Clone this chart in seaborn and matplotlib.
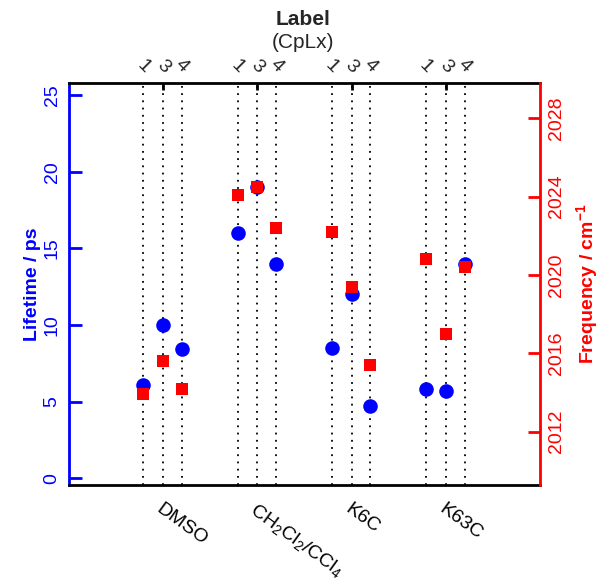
import matplotlib
matplotlib.use("Agg")
import matplotlib.pyplot as plt
import matplotlib.transforms as mtransforms
import pandas as pd
import seaborn as sns

solvents = ["DMSO", "CH$_2$Cl$_2$/CCl$_4$", "K6C", "K63C"]
labels = ["1", "3", "4"]

lifetime_dmso = [6.1, 10.0, 8.4]
lifetime_ch2cl2 = [16.0, 19.0, 14.0]
lifetime_k6c = [8.5, 12.0, 4.7]
lifetime_k63c = [5.8, 5.7, 14.0]

freq_dmso = [2013.9, 2015.6, 2014.2]
freq_ch2cl2 = [2024.1, 2024.5, 2022.4]
freq_k6c = [2022.2, 2019.4, 2015.4]
freq_k63c = [2020.8, 2017.0, 2020.4]

lifetime_ticks = [0, 5, 10, 15, 20, 25]
freq_ticks = [2012, 2016, 2020, 2024, 2028]

BLUE = "#0000ff"
RED = "#ff0000"
label_offset = {"1": -0.21, "3": 0.0, "4": 0.2}

rows = []
for i, (solv, lt, fr) in enumerate(zip(
        solvents,
        [lifetime_dmso, lifetime_ch2cl2, lifetime_k6c, lifetime_k63c],
        [freq_dmso, freq_ch2cl2, freq_k6c, freq_k63c])):
    for lab, l, f in zip(labels, lt, fr):
        rows.append({"solvent": solv, "label": lab, "x": i + 1 + label_offset[lab],
                     "lifetime": l, "frequency": f})
df = pd.DataFrame(rows)

sns.set_style("white")
plt.rcParams["font.family"] = ["Liberation Sans", "DejaVu Sans"]
plt.rcParams["mathtext.fontset"] = "custom"
plt.rcParams["mathtext.rm"] = "Liberation Sans"
plt.rcParams["mathtext.bf"] = "Liberation Sans:bold"
plt.rcParams["mathtext.default"] = "regular"

fig = plt.figure(figsize=(6.04, 5.88), dpi=100)
ax = fig.add_axes([0.114, 0.1752, 0.78, 0.6836])
ax2 = ax.twinx()

for x in df["x"]:
    ax.axvline(x, color="black", linestyle=(0, (1, 3)), linewidth=1.3, zorder=1)

sns.scatterplot(data=df, x="x", y="lifetime", ax=ax, color=BLUE, marker="o",
                s=110, linewidth=0, zorder=3, legend=False)
sns.scatterplot(data=df, x="x", y="frequency", ax=ax2, color=RED, marker="s",
                s=80, linewidth=0, zorder=3, legend=False)

ax.set_xlim(0, 5)
ax.set_ylim(-0.45, 25.8)
ax2.set_ylim(2009.28, 2029.8)

# bottom / top category ticks
centers = list(range(1, len(solvents) + 1))
ax.set_xticks(centers)
ax.set_xticklabels(solvents, rotation=-36, ha="left", va="top", rotation_mode="anchor")
shift = mtransforms.ScaledTranslation(-8 / 100, 0, fig.dpi_scale_trans)
for t in ax.get_xticklabels():
    t.set_transform(t.get_transform() + shift)
ax.tick_params(axis="x", direction="in", length=5, width=2, top=True,
               labelsize=14, pad=11, colors="black")

secax = ax.secondary_xaxis("top")
secax.set_xticks(df["x"].tolist())
secax.set_xticklabels(df["label"].tolist(), rotation=-45)
top_shift = mtransforms.ScaledTranslation(-3 / 100, 0, fig.dpi_scale_trans)
for t in secax.get_xticklabels():
    t.set_transform(t.get_transform() + top_shift)
secax.tick_params(length=0, labelsize=14, pad=5)
secax.spines["top"].set_visible(False)

ax.set_yticks(lifetime_ticks)
ax.tick_params(axis="y", direction="in", length=9, width=2, colors=BLUE,
               labelsize=14, labelrotation=90, pad=6)
for t in ax.get_yticklabels():
    t.set_va("center")
ax.set_ylabel("Lifetime / ps", color=BLUE, fontsize=14, fontweight="bold", labelpad=2)
ax.set_xlabel("")

ax2.set_yticks(freq_ticks)
ax2.tick_params(axis="y", direction="in", length=9, width=2, colors=RED,
                labelsize=14, labelrotation=90, pad=6)
for t in ax2.get_yticklabels():
    t.set_va("center")
ax2.set_ylabel(r"Frequency / cm$^{\mathbf{-1}}$", color=RED, fontsize=14,
               fontweight="bold", labelpad=6)

for name in ["top", "bottom", "left"]:
    ax.spines[name].set_linewidth(2)
ax.spines["left"].set_color(BLUE)
ax.spines["top"].set_color("black")
ax.spines["bottom"].set_color("black")
ax.spines["right"].set_visible(False)
for name in ["top", "bottom", "left"]:
    ax2.spines[name].set_visible(False)
ax2.spines["right"].set_color(RED)
ax2.spines["right"].set_linewidth(2)

fig.text(0.502, 0.966, "Label", ha="center", va="center", fontsize=15, fontweight="bold")
fig.text(0.502, 0.927, "(CpLx)", ha="center", va="center", fontsize=15)

fig.savefig("out.png", dpi=100)
